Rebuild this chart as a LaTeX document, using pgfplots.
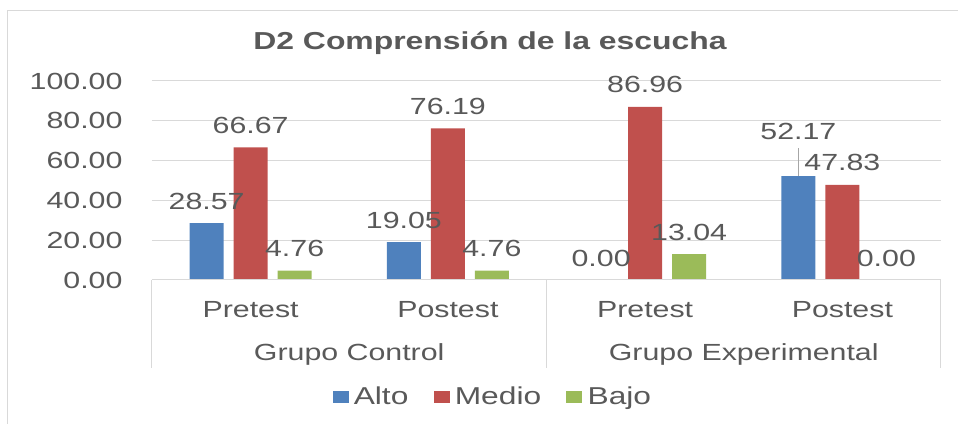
\documentclass[border=0pt]{standalone}
\usepackage{fontspec}
\setmainfont{Liberation Sans}
\usepackage{pgfplots}
\usepackage{pgfplotstable}
\pgfplotsset{compat=1.18}
\definecolor{cblue}{HTML}{4F81BD}
\definecolor{cred}{HTML}{C0504D}
\definecolor{cgreen}{HTML}{9BBB59}
\definecolor{ctext}{HTML}{595959}
\definecolor{cgrid}{HTML}{D9D9D9}
\definecolor{cleader}{HTML}{A6A6A6}
\newcommand{\fs}{\fontsize{17.5}{21}\selectfont}

\pgfplotstableread{
x y
0 28.57
1 19.05
2 0.00
3 52.17
}\alto
\pgfplotstableread{
x y
0 66.67
1 76.19
2 86.96
3 47.83
}\medio
\pgfplotstableread{
x y
0 4.76
1 4.76
2 13.04
3 0.00
}\bajo

\begin{document}
\begin{tikzpicture}
\useasboundingbox (-114pt,-108pt) rectangle (604.5pt,210pt);
\clip (-114pt,-108pt) rectangle (604.5pt,210pt);
\draw[cgrid, line width=0.75pt] (-108pt,201.75pt) rectangle (621pt,-127.5pt);
\node[anchor=base, font=\bfseries\fontsize{18.4}{22}\selectfont, text=ctext, xscale=1.3] at (253.5pt,173pt) {D2 Comprensión de la escucha};
\begin{axis}[
  at={(0,0)}, anchor=south west,
  scale only axis, width=591.75pt, height=149.25pt,
  xmin=-0.5, xmax=3.5, ymin=0, ymax=100,
  clip=false,
  ybar=7.5pt, bar width=25.5pt,
  axis line style={draw=none},
  major tick style={draw=none},
  xtick={0,1,2,3}, xticklabels={Pretest,Postest,Pretest,Postest},
  ytick={0,20,...,100},
  ymajorgrids, grid style={cgrid, line width=0.75pt},
  /pgf/number format/assume math mode=true,
  yticklabel style={font=\fs, text=ctext, xscale=1.3, xshift=-13.5pt, /pgf/number format/fixed, /pgf/number format/fixed zerofill, /pgf/number format/precision=2},
  xticklabel style={font=\fs, text=ctext, xscale=1.3, anchor=base, yshift=-24pt},
  nodes near coords,
  every node near coord/.append style={font=\fs, text=ctext, xscale=1.3, anchor=center, yshift=16.5pt, /pgf/number format/fixed, /pgf/number format/fixed zerofill, /pgf/number format/precision=2},
  legend style={draw=none, at={(0.434,-0.588)}, anchor=center, legend columns=-1,
    nodes={font=\fontsize{18.3}{22}\selectfont, text=ctext, xscale=1.3, inner sep=3pt},
    /tikz/every even column/.append style={column sep=15pt}},
  legend image code/.code={\fill[#1] (0pt,-4.5pt) rectangle (12pt,4.5pt);},
]
\addplot[fill=cblue, draw=none, coordinate style/.condition={\coordindex==3}{yshift=17.25pt}] table[x=x, y=y] {\alto};
\addplot[fill=cred, draw=none] table[x=x, y=y] {\medio};
\addplot[fill=cgreen, draw=none] table[x=x, y=y] {\bajo};
\legend{Alto, Medio, Bajo}
\draw[cleader, line width=0.75pt] ([xshift=-33pt]axis cs:3,52.17) -- ([xshift=-33pt,yshift=21pt]axis cs:3,52.17);
\draw[cgrid, line width=0.75pt] (axis cs:-0.5,0) -- (axis cs:3.5,0);
\draw[cgrid, line width=0.75pt] (axis cs:-0.5,0) -- ([yshift=-66pt]axis cs:-0.5,0);
\draw[cgrid, line width=0.75pt] (axis cs:1.5,0) -- ([yshift=-66pt]axis cs:1.5,0);
\draw[cgrid, line width=0.75pt] (axis cs:3.5,0) -- ([yshift=-66pt]axis cs:3.5,0);
\node[anchor=base, font=\fs, text=ctext, xscale=1.3] at ([yshift=-60.5pt]axis cs:0.5,0) {Grupo Control};
\node[anchor=base, font=\fs, text=ctext, xscale=1.3] at ([yshift=-60.5pt]axis cs:2.5,0) {Grupo Experimental};
\end{axis}
\end{tikzpicture}
\end{document}
